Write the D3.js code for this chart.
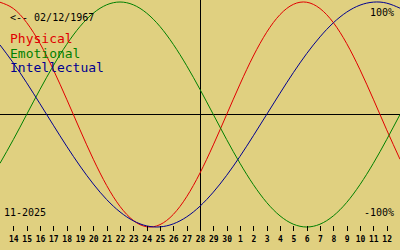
<!DOCTYPE html>
<html>
<head>
<meta charset="utf-8">
<script src="https://cdn.jsdelivr.net/npm/d3@7"></script>
<style>
  body { margin: 0; background: #e0d080; }
  svg { display: block; }
  text { font-family: "DejaVu Sans Mono", "Liberation Mono", monospace; }
</style>
</head>
<body>
<svg id="chart"></svg>
<script>
const w = 400;
const h = 250;

// day labels under the ticks (14 Nov .. 12 Dec)
const dayLabels = ["14","15","16","17","18","19","20","21","22","23","24","25","26","27","28",
                   "29","30","1","2","3","4","5","6","7","8","9","10","11","12"];
const todayIndex = 14;

// cycle values per day, first entry is the day before "14", last is the day after "12"
const physical = [0.998, 0.942, 0.817, 0.631, 0.398, 0.136, -0.136, -0.398, -0.631, -0.817,
                  -0.942, -0.998, -0.979, -0.888, -0.731, -0.520, -0.270, 0, 0.270, 0.520,
                  0.731, 0.888, 0.979, 0.998, 0.942, 0.817, 0.631, 0.398, 0.136, -0.136, -0.398];
const emotional = [-0.434, -0.223, 0, 0.223, 0.434, 0.623, 0.782, 0.901, 0.975, 1,
                   0.975, 0.901, 0.782, 0.623, 0.434, 0.223, 0, -0.223, -0.434, -0.623,
                   -0.782, -0.901, -0.975, -1, -0.975, -0.901, -0.782, -0.623, -0.434, -0.223, 0];
const intellectual = [0.618, 0.458, 0.282, 0.095, -0.095, -0.282, -0.458, -0.618, -0.756, -0.866,
                      -0.945, -0.990, -0.999, -0.972, -0.910, -0.815, -0.690, -0.541, -0.372, -0.189,
                      0, 0.189, 0.372, 0.541, 0.690, 0.815, 0.910, 0.972, 0.999, 0.990, 0.945];

var chart = d3.select("#chart")
  .attr("width", w)
  .attr("height", h);

chart.append("rect")
     .attr("width", w)
     .attr("height", h)
     .attr("fill", "#e0d080");

const xScale = d3.scaleLinear()
                 .domain([-1, dayLabels.length])
                 .range([0, w]);

const yScale = d3.scaleLinear()
                 .domain([-1, 1])
                 .range([227, 2]);

// zero line and today line
chart.append("line")
     .attr("x1", 0).attr("x2", w)
     .attr("y1", Math.floor(yScale(0)) + 0.5).attr("y2", Math.floor(yScale(0)) + 0.5)
     .attr("stroke", "#000");

chart.append("line")
     .attr("x1", Math.round(xScale(todayIndex)) + 0.5).attr("x2", Math.round(xScale(todayIndex)) + 0.5)
     .attr("y1", 0).attr("y2", 231)
     .attr("stroke", "#000");

const line = d3.line()
               .x((d, i) => xScale(i - 1))
               .y(d => yScale(d))
               .curve(d3.curveNatural);

[[physical, "#e00000"], [emotional, "#008000"], [intellectual, "#000090"]].forEach(function(s) {
  chart.append("path")
       .attr("d", line(s[0]))
       .attr("fill", "none")
       .attr("stroke", s[1])
       .attr("stroke-width", 1);
});

const xAxis = d3.axisBottom(xScale)
                .tickValues(d3.range(dayLabels.length))
                .tickFormat(i => dayLabels[i])
                .tickSize(5)
                .tickPadding(5);

var axisG = chart.append("g")
                 .attr("id", "x-axis")
                 .attr("transform", "translate(0, 226)")
                 .call(xAxis);
axisG.select(".domain").remove();
axisG.selectAll("line").attr("stroke", "#000").attr("shape-rendering", "crispEdges");
axisG.selectAll("text")
     .attr("fill", "#000")
     .style("font-family", "'DejaVu Sans Mono', monospace")
     .style("font-size", "8px")
     .style("font-weight", "bold");

// labels
chart.append("text").attr("x", 10).attr("y", 21)
     .attr("font-size", 10).attr("fill", "#000").text("<-- 02/12/1967");
chart.append("text").attr("x", 394).attr("y", 16).attr("text-anchor", "end")
     .attr("font-size", 10).attr("fill", "#000").text("100%");
chart.append("text").attr("x", 394).attr("y", 216).attr("text-anchor", "end")
     .attr("font-size", 10).attr("fill", "#000").text("-100%");
chart.append("text").attr("x", 4).attr("y", 216)
     .attr("font-size", 10).attr("fill", "#000").text("11-2025");

const legend = [["Physical", "#e00000"], ["Emotional", "#008000"], ["Intellectual", "#000090"]];
chart.selectAll(".legend")
     .data(legend)
     .enter()
     .append("text")
     .attr("class", "legend")
     .attr("x", 10)
     .attr("y", (d, i) => 43 + i * 14.5)
     .attr("font-size", 13)
     .attr("fill", d => d[1])
     .text(d => d[0]);
</script>
</body>
</html>
